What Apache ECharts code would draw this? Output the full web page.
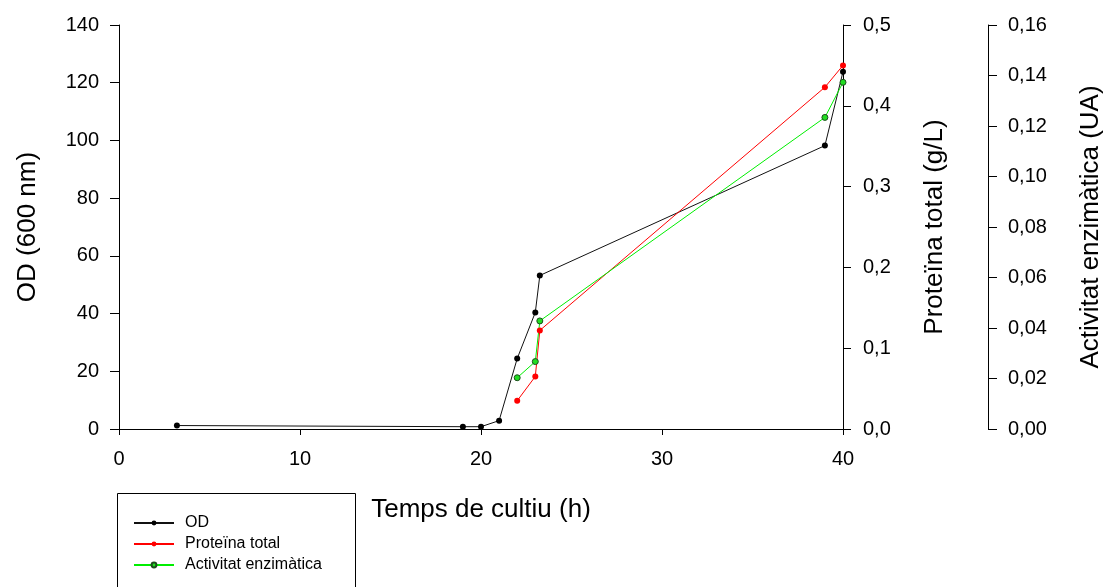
<!DOCTYPE html>
<html>
	<head>
		<meta charset="utf-8">
		<title></title>
		<script type="text/javascript" src="https://cdn.jsdelivr.net/npm/echarts@6/dist/echarts.min.js"></script>
		<style>
			html, body { margin: 0; padding: 0; background: #fff; }
			#chart { width: 1104px; height: 587px; }
		</style>
	</head>
	<body>
		<div id="chart"></div>
		<script type="text/javascript">
			// temps de cultiu (h) i valors llegits del gràfic
			var tempsOD = [3.2, 19, 20, 21, 22, 23, 23.25, 39, 40];
			var valorsOD = [1.2, 0.8, 0.8, 2.9, 24.4, 40.4, 53.2, 98.2, 123.8];
			var tempsProt = [22, 23, 23.25, 39, 40];
			var valorsProt = [0.035, 0.065, 0.122, 0.423, 0.45];
			var tempsAct = [22, 23, 23.25, 39, 40];
			var valorsAct = [0.0203, 0.0267, 0.0428, 0.1234, 0.1373];

			function parells(xs, ys) {
				var out = [];
				for (var i = 0; i < xs.length; i++) {
					out.push([xs[i], ys[i]]);
				}
				return out;
			}

			function coma(dec) {
				return function(v) {
					return v.toFixed(dec).replace('.', ',');
				};
			}

			var font = 'Liberation Sans, Arial, sans-serif';

			function eix(tick) {
				return {
					axisLine: { show: true, lineStyle: { color: '#000', width: 1 } },
					axisTick: { show: true, inside: false, length: tick, lineStyle: { color: '#000' } },
					splitLine: { show: false },
					nameTextStyle: { fontFamily: font, fontSize: 26, color: '#000' }
				};
			}

			function etiqueta(marge, fmt) {
				var e = { fontFamily: font, fontSize: 20, color: '#000', margin: marge };
				if (fmt) e.formatter = fmt;
				return e;
			}

			var myChart = echarts.init(document.getElementById('chart'));
			var option = {
				animation: false,
				grid: { left: 119, right: 261, top: 25, bottom: 158, outerBoundsMode: 'none' },
				graphic: [{
					type: 'rect',
					shape: { x: 117.5, y: 493.5, width: 238, height: 120 },
					style: { fill: 'none', stroke: '#000', lineWidth: 1 }
				}],
				legend: {
					orient: 'vertical',
					left: 133,
					top: 515,
					padding: 0,
					itemWidth: 40,
					itemHeight: 6,
					itemGap: 5,
					textStyle: { fontFamily: font, fontSize: 16, color: '#000', padding: [0, 0, 0, 6] },
					data: ['OD', 'Proteïna total', 'Activitat enzimàtica']
				},
				xAxis: Object.assign({
					type: 'value',
					min: 0,
					max: 40,
					interval: 10,
					name: 'Temps de cultiu (h)',
					nameLocation: 'middle',
					nameGap: 68,
					axisLabel: etiqueta(20)
				}, eix(6)),
				yAxis: [
					Object.assign({
						type: 'value',
						min: 0,
						max: 140,
						interval: 20,
						position: 'left',
						name: 'OD (600 nm)',
						nameLocation: 'middle',
						nameGap: 78,
						axisLabel: etiqueta(20)
					}, eix(9)),
					Object.assign({
						type: 'value',
						min: 0,
						max: 0.5,
						interval: 0.1,
						position: 'right',
						name: 'Proteïna total (g/L)',
						nameLocation: 'middle',
						nameGap: 79,
						axisLabel: etiqueta(20, coma(1))
					}, eix(8)),
					Object.assign({
						type: 'value',
						min: 0,
						max: 0.16,
						interval: 0.02,
						position: 'right',
						offset: 145,
						name: 'Activitat enzimàtica (UA)',
						nameLocation: 'middle',
						nameGap: 90,
						axisLabel: etiqueta(20, coma(2))
					}, eix(9))
				],
				series: [{
					name: 'OD',
					type: 'line',
					yAxisIndex: 0,
					data: parells(tempsOD, valorsOD),
					symbol: 'circle',
					symbolSize: 6,
					lineStyle: { color: '#111', width: 1 },
					itemStyle: { color: '#000' }
				}, {
					name: 'Proteïna total',
					type: 'line',
					yAxisIndex: 1,
					data: parells(tempsProt, valorsProt),
					symbol: 'circle',
					symbolSize: 6,
					lineStyle: { color: '#ff0000', width: 1 },
					itemStyle: { color: '#ff0000' }
				}, {
					name: 'Activitat enzimàtica',
					type: 'line',
					yAxisIndex: 2,
					data: parells(tempsAct, valorsAct),
					symbol: 'circle',
					symbolSize: 6,
					lineStyle: { color: '#00ee00', width: 1 },
					itemStyle: { color: '#22dd22', borderColor: '#1c4c1c', borderWidth: 1 }
				}]
			};

			myChart.setOption(option);
		</script>
	</body>
</html>
